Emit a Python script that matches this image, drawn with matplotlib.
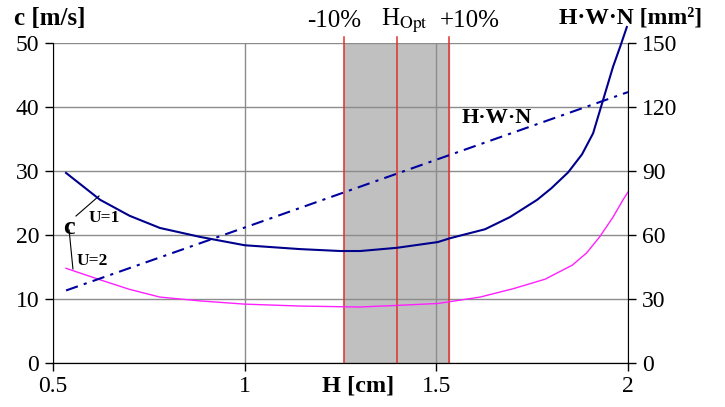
import matplotlib.pyplot as plt
from matplotlib.font_manager import FontProperties

plt.rcParams['font.family'] = ['Liberation Serif', 'DejaVu Serif']
plt.rcParams['mathtext.fontset'] = 'stix'

# channel height H [cm] and air speed c [m/s] for two voltages
h_u1 = [0.534, 0.623, 0.70, 0.779, 0.884, 1.0, 1.144, 1.249, 1.302, 1.397,
        1.504, 1.536, 1.627, 1.692, 1.763, 1.80, 1.844, 1.88, 1.909, 1.935,
        1.961, 1.98, 1.997]
c_u1 = [29.7, 25.5, 23.0, 21.1, 19.7, 18.4, 17.8, 17.5, 17.5, 18.0,
        18.9, 19.5, 20.9, 22.8, 25.5, 27.3, 29.8, 32.6, 35.9, 41.1,
        46.3, 49.5, 52.5]

h_u2 = [0.534, 0.623, 0.70, 0.779, 0.884, 1.0, 1.144, 1.30, 1.397, 1.504,
        1.614, 1.70, 1.784, 1.855, 1.892, 1.926, 1.961, 1.987, 2.0]
c_u2 = [14.8, 13.0, 11.5, 10.3, 9.7, 9.2, 8.9, 8.75, 9.0, 9.3,
        10.3, 11.6, 13.1, 15.3, 17.2, 19.7, 22.8, 25.5, 26.7]

# cross-section product H*W*N [mm^2]
h_hwn = [0.534, 1.0, 1.5, 2.0]
hwn = [34.0, 63.5, 95.3, 127.0]

h_opt = 1.397
h_lo = 1.259
h_hi = 1.533

x_ticks = [0.5, 1, 1.5, 2]
x_labels = ['0.5', '1', '1.5', '2']
c_ticks = [0, 10, 20, 30, 40, 50]
hwn_ticks = [0, 30, 60, 90, 120, 150]

serif = 'Liberation Serif'
tick_font = FontProperties(family=serif, size=17)

fig = plt.figure(figsize=(7.25, 4.07), dpi=100)
ax = fig.add_axes([0.0731, 0.1081, 0.7931, 0.7862])
ax2 = ax.twinx()

ax.set_xlim(0.5, 2)
ax.set_ylim(0, 50)
ax2.set_ylim(0, 150)

ax.axvspan(h_lo, h_hi, color='#c0c0c0', zorder=0)
ax.set_xticks(x_ticks)
ax.set_xticklabels(x_labels, fontproperties=tick_font)
ax.set_yticks(c_ticks)
ax.set_yticklabels([str(v) for v in c_ticks], fontproperties=tick_font)
ax2.set_yticks(hwn_ticks)
ax2.set_yticklabels([str(v) for v in hwn_ticks], fontproperties=tick_font)
ax.grid(True, color='#8c8c8c', lw=1, zorder=1)
ax.set_axisbelow(True)

for x in (h_lo, h_opt, h_hi):
    ax.plot([x, x], [0, 50.9], color='#e03030', lw=1.1, clip_on=False, zorder=3)

ax.plot(h_u1, c_u1, color='#00008c', lw=1.5, clip_on=False, zorder=4)
ax.plot(h_u2, c_u2, color='#ff20ff', lw=1.0, clip_on=False, zorder=4)
ax2.plot(h_hwn, hwn, color='#0000a0', lw=1.5, dashes=[6, 3, 1.5, 3], zorder=4)

for a in (ax, ax2):
    a.spines['top'].set_visible(False)
    a.tick_params(direction='out', length=6, width=1, color='black')
ax.tick_params(axis='x', pad=3)
ax.tick_params(axis='y', pad=4)
ax2.tick_params(axis='y', pad=4)
ax.spines['right'].set_visible(False)
ax2.spines['left'].set_visible(False)

fig.text(0.02, 0.955, 'c [m/s]', fontsize=18, fontweight='bold', va='center', family=serif)
fig.text(0.771, 0.955, 'H·W·N [mm²]', fontsize=17, fontweight='bold', va='center',
         ha='left', family=serif)
fig.text(0.461, 0.948, '-10%', fontsize=18, ha='center', va='center', family=serif)
fig.text(0.558, 0.948, 'H$_{\\mathrm{Opt}}$', fontsize=18, ha='center', va='center')
fig.text(0.648, 0.948, '+10%', fontsize=18, ha='center', va='center', family=serif)
fig.text(0.494, 0.052, 'H [cm]', fontsize=17.5, fontweight='bold', ha='center',
         va='center', family=serif)

ax2.text(1.657, 115, 'H·W·N', fontsize=16, fontweight='bold', ha='center', va='center',
         family=serif)

ax.text(0.542, 21.25, 'c', fontsize=19, fontweight='bold', ha='center', va='center',
        family=serif)
ax.text(0.633, 22.6, 'U=1', fontsize=12.5, fontweight='bold', ha='center', va='center',
        family=serif)
ax.text(0.602, 16.0, 'U=2', fontsize=12.5, fontweight='bold', ha='center', va='center',
        family=serif)
ax.plot([0.56, 0.62], [22.97, 26.1], color='black', lw=0.8)
ax.plot([0.542, 0.552], [20.8, 14.7], color='black', lw=0.8)

fig.savefig('out.png', dpi=100)
